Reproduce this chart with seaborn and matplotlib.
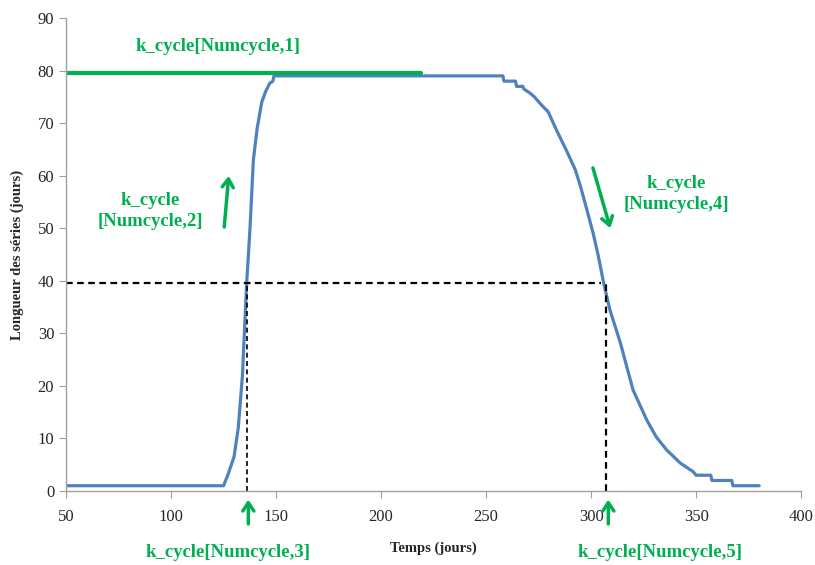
import pandas as pd
import matplotlib
matplotlib.use("Agg")
import matplotlib.pyplot as plt
import seaborn as sns

# Curve (time in days, series length in days)
temps = [50, 125, 127, 130, 132, 134, 136, 137.6, 139.2, 141, 143.2, 145, 147, 148.5, 149,
         258, 258.5, 264, 264.5, 267.5, 268, 271, 273, 276.5, 279.5, 283.5, 288.5, 292.5,
         295, 298, 301, 303.5, 306, 309, 314, 317, 320, 326.5, 331, 336, 342.5, 348.5,
         350, 357, 357.5, 367, 367.5, 380]
longueur = [1, 1, 3, 6.5, 12, 22, 39.5, 50, 63, 69, 74, 76, 77.6, 78, 79,
            79, 78, 78, 77, 77, 76.5, 75.7, 75, 73.4, 72.2, 68.7, 64.6, 61.1,
            57.9, 53.5, 49, 44.6, 39.5, 34.4, 28.1, 23.6, 19.2, 13.5, 10.3, 7.8, 5.3, 3.7,
            3, 3, 2, 2, 1, 1]

# Reference levels
k1_level = 79.5
k1_end = 219
half_level = 39.5
t_rise = 136       # k_cycle[Numcycle,3]
t_fall = 307       # k_cycle[Numcycle,5]
t_half_end = 304.5

green = "#00B050"
blue = "#4F81BD"

df = pd.DataFrame({"Temps": temps, "Longueur": longueur})

sns.set_style("white")
plt.rcParams["font.family"] = ["Liberation Serif", "DejaVu Serif"]

fig = plt.figure(figsize=(8.15, 5.65), dpi=100)
ax = fig.add_axes([0.081, 0.131, 0.902, 0.837])

sns.lineplot(data=df, x="Temps", y="Longueur", sort=False, estimator=None,
             color=blue, lw=2.3, ax=ax)

# green k_cycle[Numcycle,1] level
ax.plot([50, k1_end], [k1_level, k1_level], color=green, lw=3)

# dashed half-level lines
ax.plot([50, t_half_end], [half_level, half_level], color="black", lw=1.6, ls=(0, (3, 2)))
ax.plot([t_rise, t_rise], [0, half_level], color="black", lw=1.2, ls=(0, (3, 2)))
ax.plot([t_fall, t_fall], [0, half_level], color="black", lw=1.6, ls=(0, (3, 2)))

ax.set_xlim(50, 400)
ax.set_ylim(0, 90)
ax.set_xticks(range(50, 401, 50))
ax.set_yticks(range(0, 91, 10))
ax.set_xlabel("Temps (jours)", fontsize=10.5, fontweight="bold", labelpad=12)
ax.set_ylabel("Longueur des séries (jours)", fontsize=10.5, fontweight="bold", labelpad=10)
ax.tick_params(axis="both", labelsize=12, direction="out", length=5, color="#A0A0A0",
               bottom=True, left=True)
ax.tick_params(axis="x", pad=8)
for side in ["top", "right"]:
    ax.spines[side].set_visible(False)
for side in ["left", "bottom"]:
    ax.spines[side].set_color("#A0A0A0")
    ax.spines[side].set_linewidth(1)

# annotations
lab = dict(color=green, fontsize=13.5, fontweight="bold", ha="center", va="center")
ax.text(122.5, 84.6, "k_cycle[Numcycle,1]", **lab)
ax.text(90, 53.3, "k_cycle\n[Numcycle,2]", linespacing=1.3, **lab)
ax.text(340.5, 56.5, "k_cycle\n[Numcycle,4]", linespacing=1.3, **lab)
ax.text(127, -11.8, "k_cycle[Numcycle,3]", clip_on=False, **lab)
ax.text(332.6, -11.8, "k_cycle[Numcycle,5]", clip_on=False, **lab)

arr = dict(arrowstyle="->,head_width=0.4,head_length=0.6", color=green, lw=2.5)
ax.annotate("", xy=(127.6, 60.5), xytext=(125.2, 49.7), arrowprops=arr)
ax.annotate("", xy=(309.5, 49.5), xytext=(300.5, 62.0), arrowprops=arr)
ax.annotate("", xy=(t_rise + 0.8, -1.1), xytext=(t_rise + 0.8, -6.8), arrowprops=arr,
            annotation_clip=False)
ax.annotate("", xy=(t_fall + 1.2, -1.1), xytext=(t_fall + 1.2, -6.8), arrowprops=arr,
            annotation_clip=False)

fig.savefig("out.png", dpi=100)
